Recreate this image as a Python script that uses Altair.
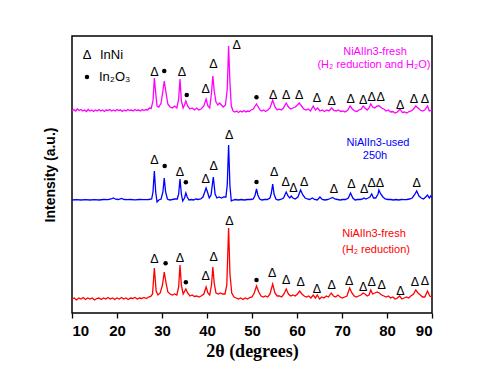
import altair as alt
import pandas as pd

# ---------------- data ----------------
# 2theta positions and intensities (a.u., relative to each pattern's own baseline)
red_pts = [(10,0),(10.5,1),(11,-1),(11.5,1),(12,0),(12.5,1.5),(13,-0.5),(13.5,1),(14,0),(14.5,1),(15,-1),(15.5,0.5),(16,1),(16.5,-0.5),(17,1),(17.5,0),(18,1.5),(18.5,0),(19,1),(19.5,-0.5),(20,1),(20.5,0),(21,1.5),(21.5,0),(22,1),(22.5,-0.5),(23,1),(23.5,0.5),(24,1.5),(24.5,0),(25,1),(25.5,0.5),(26,1.5),(26.5,0.5),(27,2),(27.5,2.5),(27.9,5),(28.3,31),(28.7,8),(29.1,4),(29.6,6),(30.1,14),(30.5,27),(30.9,16),(31.3,7),(31.8,5),(32.3,4),(32.8,5),(33.3,4),(33.7,12),(34.0,34),(34.3,14),(34.7,5),(35.3,10),(35.7,6),(36.2,3),(36.7,4),(37.2,2.5),(37.7,3),(38.2,2),(38.7,3),(39.3,5),(39.8,12),(40.2,6),(40.6,4),(41.0,14),(41.3,32),(41.6,16),(42.0,6),(42.5,5),(43,6),(43.5,5),(44.0,5),(44.4,14),(44.8,71),(45.1,25),(45.5,6),(46.0,2),(46.5,1),(47,0),(47.5,1),(48,-0.5),(48.5,1),(49,0),(49.5,1.5),(50,2),(50.5,6),(51.0,13),(51.5,7),(52,3),(52.5,2),(53,3),(53.5,2),(54,5),(54.6,15),(55.1,6),(55.6,3),(56.1,3),(56.6,2),(57.1,5),(57.6,10),(58.1,5),(58.6,3),(59.1,4),(59.6,3),(60.1,5),(60.6,8),(61.1,5),(61.6,3),(62.1,2),(62.6,3),(63.1,1),(63.6,4),(64.1,1),(64.5,4),(65,0),(65.5,2),(66,1),(66.5,3),(67,2),(67.6,6),(68.1,3),(68.6,2),(69.1,4),(69.6,2),(70.1,1),(70.6,2),(71.1,3),(71.7,11),(72.2,6),(72.7,3),(73.2,2),(73.7,3),(74.2,4),(74.7,6),(75.1,5),(75.6,3),(76.0,4),(76.4,9),(76.8,5),(77.3,6),(77.8,7),(78.3,6),(78.8,4),(79.3,3),(79.8,2),(80.3,3),(80.8,1),(81.3,2),(81.8,0),(82.3,1),(82.8,3),(83.3,0),(83.8,1),(84.3,2),(84.8,1),(85.3,3),(85.9,5),(86.4,9),(86.9,6),(87.4,4),(87.9,2),(88.4,2),(89.0,8),(89.5,3),(90,2)]

blue_pts = [(10,0),(11,0.3),(12,0),(13,0.3),(14,0),(15,0.3),(16,0),(17,0.5),(18,0.3),(18.7,1),(19.2,2),(19.7,0.8),(20.3,0.5),(21.0,1.5),(21.6,0.5),(22.3,0.3),(23,0.5),(24,0.2),(25,0.5),(26,0.3),(27,0.5),(27.7,1),(28.0,8),(28.3,29),(28.6,8),(28.9,-2),(29.3,0),(29.8,1),(30.2,8),(30.5,22),(30.8,8),(31.2,1),(31.7,0),(32.3,0.5),(32.8,1),(33.4,1),(33.7,6),(34.0,21),(34.3,6),(34.6,-1),(35.0,2),(35.3,7),(35.6,3),(36.0,0),(36.5,0.5),(37,0),(37.5,1),(38,0.5),(38.6,1),(39.1,3),(39.5,8),(39.8,12),(40.1,8),(40.5,2),(40.9,5),(41.4,23),(41.8,6),(42.2,2),(42.7,3),(43.2,2),(43.7,3),(44.2,3),(44.5,15),(44.8,55),(45.1,14),(45.4,-1),(45.8,0),(46.3,0.5),(47,0),(47.6,0.5),(48.3,0),(49,0.5),(49.7,0.5),(50.3,1),(50.7,5),(51.0,11),(51.3,5),(51.7,1),(52.2,0),(52.8,0.5),(53.4,0.5),(54.0,2),(54.3,7),(54.6,16),(54.9,6),(55.3,1),(55.8,0),(56.4,0.5),(57.0,2),(57.6,8),(58.0,4),(58.4,2),(58.7,4),(59.1,2),(59.6,1),(60.2,3),(60.8,10),(61.3,5),(61.8,2),(62.3,1),(62.8,0.5),(63.4,2),(63.9,0.5),(64.5,0),(65.1,3),(65.6,0.5),(66.2,0),(66.8,0.5),(67.4,1.5),(67.9,2.5),(68.4,1),(69,0.5),(69.6,0),(70.2,0.5),(70.8,0.5),(71.4,2),(71.9,7),(72.4,2),(72.9,0),(73.5,0.5),(74.1,0.5),(74.6,1),(74.9,2),(75.3,1),(75.8,2),(76.2,3),(76.6,6),(77.0,2),(77.5,2),(78.0,6),(78.2,10),(78.6,6),(79.1,3),(79.6,1),(80.2,0.5),(80.8,0.5),(81.4,0),(82,0.5),(82.6,0),(83.2,0.5),(83.8,0.3),(84.4,0.5),(85.0,1),(85.6,2),(86.1,5),(86.6,9),(87.1,4),(87.6,2),(88.1,1),(88.6,3),(89.0,5),(89.4,2),(89.7,4),(90,2)]

magenta_pts = [(10,0),(10.4,1.5),(10.8,0),(11.2,2),(11.6,0.5),(12,1.5),(12.4,0),(12.8,1),(13.2,-0.5),(13.6,1.5),(14,0),(14.4,1),(14.8,-0.5),(15.2,1),(15.6,0),(16,1.5),(16.4,0),(16.8,1),(17.2,-0.5),(17.6,1),(18,0.5),(18.4,1.5),(18.8,0),(19.2,1),(19.6,0),(20,1.5),(20.4,0.5),(20.8,1),(21.2,-0.5),(21.6,1),(22,0),(22.4,1.5),(22.8,0.5),(23.2,1),(23.6,0),(24,1.5),(24.4,0.5),(24.8,1),(25.2,0),(25.6,1.5),(26,0.5),(26.4,1.5),(26.8,1),(27.2,3),(27.6,2.5),(28.0,10),(28.3,33),(28.6,18),(28.9,5),(29.3,4),(29.8,8),(30.2,20),(30.5,30),(30.9,18),(31.3,7),(31.8,4),(32.3,3),(32.8,5),(33.3,3),(33.7,12),(34.0,32),(34.3,10),(34.7,3),(35.0,6),(35.3,10),(35.7,5),(36.2,2),(36.7,3),(37.2,1),(37.7,3),(38.2,1),(38.7,2),(39.3,5),(39.8,12),(40.2,5),(40.6,3),(41.0,18),(41.3,35),(41.6,20),(42.0,9),(42.4,6),(42.8,8),(43.2,6),(43.6,4),(44.1,6),(44.5,22),(44.8,65),(45.1,28),(45.4,5),(45.8,0),(46.2,-1),(46.6,0),(47,-1.5),(47.4,0),(47.8,-1),(48.2,0.5),(48.6,-1),(49,0),(49.4,-0.5),(49.8,1),(50.3,2),(50.7,5),(51.0,7),(51.4,4),(51.8,1),(52.2,0),(52.6,1),(53,-0.5),(53.5,1),(54,3),(54.6,11),(55.1,4),(55.6,1),(56,2),(56.5,1),(57,3),(57.6,8),(58.1,4),(58.6,2),(59.1,3),(59.6,4),(60.1,6),(60.5,8),(61,5),(61.5,2),(62,1),(62.5,2),(63,0),(63.6,5),(64.1,1),(64.6,3),(65.1,0),(65.6,1),(66.1,-0.5),(66.6,1),(67.1,0),(67.7,3),(68.2,0.5),(68.7,0),(69.2,1),(69.7,-0.5),(70.2,0),(70.7,-1),(71.3,1),(71.8,5),(72.3,2),(72.8,0),(73.3,-0.5),(73.8,1),(74.3,2),(74.7,5),(75.1,3),(75.6,1),(76,3),(76.4,7),(76.8,4),(77.3,3),(77.8,5),(78.3,5),(78.8,3),(79.3,2),(79.8,0),(80.3,1),(80.8,-1),(81.3,-0.5),(81.8,-2),(82.3,-1),(82.9,2),(83.4,-1.5),(83.9,-1),(84.4,-2),(84.9,-0.5),(85.4,0),(85.9,2),(86.4,5),(86.9,3),(87.4,1),(87.9,0),(88.4,1),(89.0,5),(89.4,0),(90,1)]

series_names = ["fresh_H2", "used", "fresh_H2_H2O"]
series_offsets = [14, 113, 202]
series_colors = ["#ff0000", "#0000ff", "#ff00ff"]

# phase markers (2theta, stacked intensity)
tri_x = [28.3,34.4,39.7,41.4,46.6,54.7,57.6,60.5,64.4,67.7,71.9,74.7,76.6,78.6,82.9,86.0,88.4,
         28.3,34.0,39.7,41.5,44.9,54.9,57.5,59.2,61.6,68.2,72.1,74.9,76.6,78.4,86.6,
         28.3,34.0,39.7,41.5,45.0,54.5,57.6,60.8,64.4,67.7,71.6,74.7,76.6,78.8,83.0,86.2,88.4]
tri_y = [240.7,240.7,223.7,248.7,268,218,218,218,215.3,212.3,213.7,213,216.3,215.7,208,214.3,214.3,
         153,141.3,134.3,147,177.7,140.7,130.7,124.7,131.3,123.7,128.7,123.7,129.7,130.3,130.3,
         53.7,54.7,37.3,56.3,92,39.7,32.7,30.7,23.7,28,32,25.7,30.7,28,22.3,30.7,32]
dot_x = [30.5,35.5,51.0, 30.6,35.3,51.0, 30.8,35.3,51.0]
dot_y = [242,218,215.7, 147,130.7,131, 49.7,30.7,33]

x_ticks = [10,15,20,25,30,35,40,45,50,55,60,65,70,75,80,85,90]

# ---------------- build tables ----------------
rows = []
for name, off, pts in zip(series_names, series_offsets, [red_pts, blue_pts, magenta_pts]):
    for x, y in pts:
        rows.append({"x": x, "y": y + off, "s": name})
line_df = pd.DataFrame(rows)
tri_df = pd.DataFrame({"x": tri_x, "y": tri_y})
dot_df = pd.DataFrame({"x": dot_x, "y": dot_y})

xscale = alt.Scale(domain=[10, 90], nice=False, zero=False)
yscale = alt.Scale(domain=[0, 277], nice=False, zero=False)

xaxis = alt.Axis(
    title="2θ (degrees)", values=x_ticks, grid=False, domain=False,
    labelExpr="datum.value % 10 === 0 ? datum.label : ''",
    tickSize=alt.ExprRef(expr="datum.value % 10 === 0 ? 5 : 3"),
    tickColor="black", tickWidth=1.3,
    labelFont="Liberation Sans", labelFontSize=15, labelFontWeight="bold", labelColor="black",
    labelPadding=5,
    titleFont="Liberation Serif", titleFontSize=18, titleFontWeight="bold", titleColor="black",
    titlePadding=4,
)
yaxis = alt.Axis(
    title="Intensity (a.u.)", labels=False, ticks=False, domain=False, grid=False,
    titleFont="Liberation Sans", titleFontSize=14, titleFontWeight="bold", titleColor="black",
    titlePadding=15,
)

lines = alt.Chart(line_df).mark_line(strokeWidth=1.3).encode(
    x=alt.X("x:Q", scale=xscale, axis=xaxis),
    y=alt.Y("y:Q", scale=yscale, axis=yaxis),
    color=alt.Color("s:N", scale=alt.Scale(domain=series_names, range=series_colors), legend=None),
)

tris = alt.Chart(tri_df).mark_text(text="Δ", font="Liberation Sans", fontSize=12.5, color="black",
                                    baseline="middle", align="center").encode(
    x=alt.X("x:Q", scale=xscale), y=alt.Y("y:Q", scale=yscale))
dots = alt.Chart(dot_df).mark_point(shape="circle", filled=True, size=20, color="black", opacity=1).encode(
    x=alt.X("x:Q", scale=xscale), y=alt.Y("y:Q", scale=yscale))

def label(txt, px, py, color, size=11, align="center"):
    return alt.Chart(pd.DataFrame({"t": [txt]})).mark_text(
        font="Liberation Sans", fontSize=size, color=color, align=align, baseline="middle"
    ).encode(text="t:N", x=alt.value(px), y=alt.value(py))

labels = [
    label("NiAlIn3-fresh", 303, 16, "#ff00ff"),
    label("(H₂ reduction and H₂O)", 302, 29, "#ff00ff"),
    label("NiAlIn3-used", 306, 107, "#0000ff"),
    label("250h", 303, 120, "#0000ff"),
    label("NiAlIn3-fresh", 302, 198, "#ff0000"),
    label("(H₂ reduction)", 304, 214, "#ff0000"),
    label("Δ", 15, 19, "black", 13),
    label("InNi", 28, 19, "black", 13, "left"),
    label("In₂O₃", 27, 41, "black", 13, "left"),
]
legend_dot = alt.Chart(pd.DataFrame({"a": [0]})).mark_point(
    shape="circle", filled=True, size=20, color="black", opacity=1
).encode(x=alt.value(15), y=alt.value(41))

chart = alt.layer(lines, tris, dots, *labels, legend_dot).properties(
    width=360, height=277,
    autosize=alt.AutoSizeParams(type="none"),
    padding={"left": 64, "top": 28, "right": 40, "bottom": 55},
    background="white",
).configure_view(stroke="black", strokeWidth=1.5)

chart.save("out.html", embed_options={"renderer": "svg", "actions": False})
